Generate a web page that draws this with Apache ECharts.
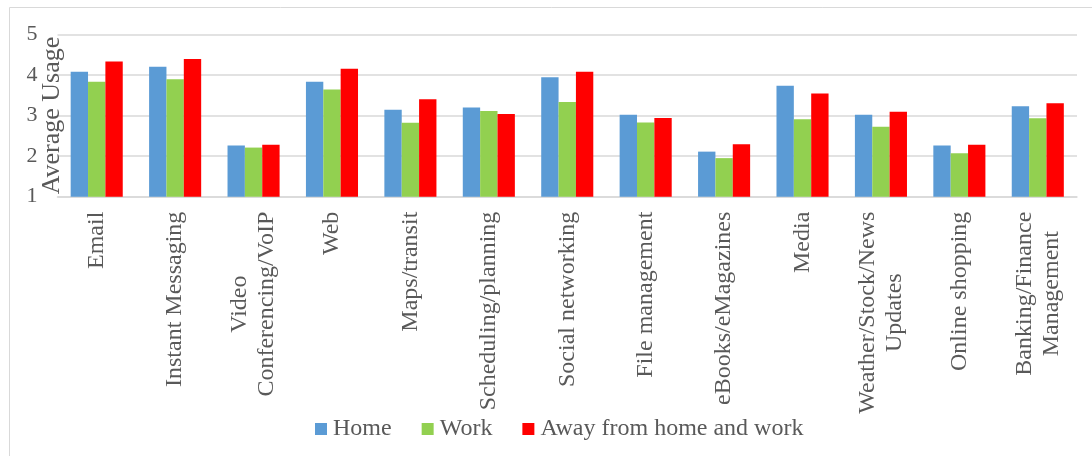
<!DOCTYPE html>
<html>
<head>
<meta charset="utf-8">
<title>Average Usage by Location</title>
<script src="https://cdn.jsdelivr.net/npm/echarts@6/dist/echarts.min.js"></script>
<style>
  html, body { margin: 0; padding: 0; background: #ffffff; }
  #chart { width: 1092px; height: 456px; }
</style>
</head>
<body>
<div id="chart"></div>
<script>
// Application categories (line breaks mark wrapped labels)
const categories = [
  'Email',
  'Instant Messaging',
  'Video\nConferencing/VoIP',
  'Web',
  'Maps/transit',
  'Scheduling/planning',
  'Social networking',
  'File management',
  'eBooks/eMagazines',
  'Media',
  'Weather/Stock/News\nUpdates',
  'Online shopping',
  'Banking/Finance\nManagement'
];

const seriesNames = ['Home', 'Work', 'Away from home and work'];

// Average usage scores per location
const homeValues = [4.08, 4.20, 2.26, 3.83, 3.14, 3.20, 3.94, 3.02, 2.11, 3.73, 3.02, 2.26, 3.23];
const workValues = [3.83, 3.89, 2.21, 3.64, 2.82, 3.11, 3.33, 2.83, 1.95, 2.91, 2.72, 2.07, 2.93];
const awayValues = [4.33, 4.39, 2.28, 4.15, 3.40, 3.04, 4.08, 2.94, 2.29, 3.54, 3.09, 2.28, 3.30];

const yTicks = [1, 2, 3, 4, 5];

const FONT = '"Liberation Serif", "Times New Roman", serif';
const TEXT = '#595959';
const GRID = '#d9d9d9';
const colors = ['#5b9bd5', '#92d050', '#ff0000'];

const chart = echarts.init(document.getElementById('chart'), null, { renderer: 'canvas' });

const makeSeries = (name, data, color) => ({
  name: name,
  type: 'bar',
  data: data,
  barGap: '0%',
  barCategoryGap: '33.6%',
  itemStyle: { color: color },
  emphasis: { disabled: true }
});

chart.setOption({
  animation: false,
  backgroundColor: '#ffffff',
  color: colors,
  textStyle: { fontFamily: FONT, color: TEXT },
  graphic: [{
    type: 'rect',
    silent: true,
    z: -10,
    shape: { x: 9.5, y: 7.5, width: 1200, height: 600 },
    style: { fill: 'none', stroke: GRID, lineWidth: 1 }
  }],
  grid: {
    left: 57.5,
    right: 15,
    top: 34.3,
    bottom: 259.3,
    containLabel: false,
    outerBoundsMode: 'none'
  },
  legend: {
    left: 310,
    top: 412,
    icon: 'rect',
    itemWidth: 12,
    itemHeight: 12,
    itemGap: 30,
    data: seriesNames,
    textStyle: { fontFamily: FONT, fontSize: 24, color: TEXT, padding: [0, 0, 0, 1] }
  },
  xAxis: {
    type: 'category',
    data: categories,
    axisLine: { show: true, lineStyle: { color: GRID, width: 1.5 } },
    axisTick: { show: false },
    axisLabel: {
      interval: 0,
      rotate: 90,
      margin: 15,
      formatter: (value) => value.split('\n').map(line => '{c|' + line + '}').join('\n'),
      rich: {
        c: {
          align: 'center',
          fontFamily: FONT,
          fontSize: 24,
          lineHeight: 27,
          color: TEXT
        }
      }
    }
  },
  yAxis: {
    type: 'value',
    min: yTicks[0],
    max: yTicks[yTicks.length - 1],
    interval: 1,
    name: 'Average Usage',
    nameLocation: 'middle',
    nameRotate: 90,
    nameGap: -8,
    nameMoveOverlap: false,
    nameTextStyle: { fontFamily: FONT, fontSize: 26, color: TEXT },
    axisLine: { show: false },
    axisTick: { show: false },
    splitLine: { lineStyle: { color: GRID, width: 1.5 } },
    axisLabel: {
      margin: 20,
      fontFamily: FONT,
      fontSize: 22,
      color: TEXT
    }
  },
  series: [
    makeSeries(seriesNames[0], homeValues, colors[0]),
    makeSeries(seriesNames[1], workValues, colors[1]),
    makeSeries(seriesNames[2], awayValues, colors[2])
  ]
});
</script>
</body>
</html>
